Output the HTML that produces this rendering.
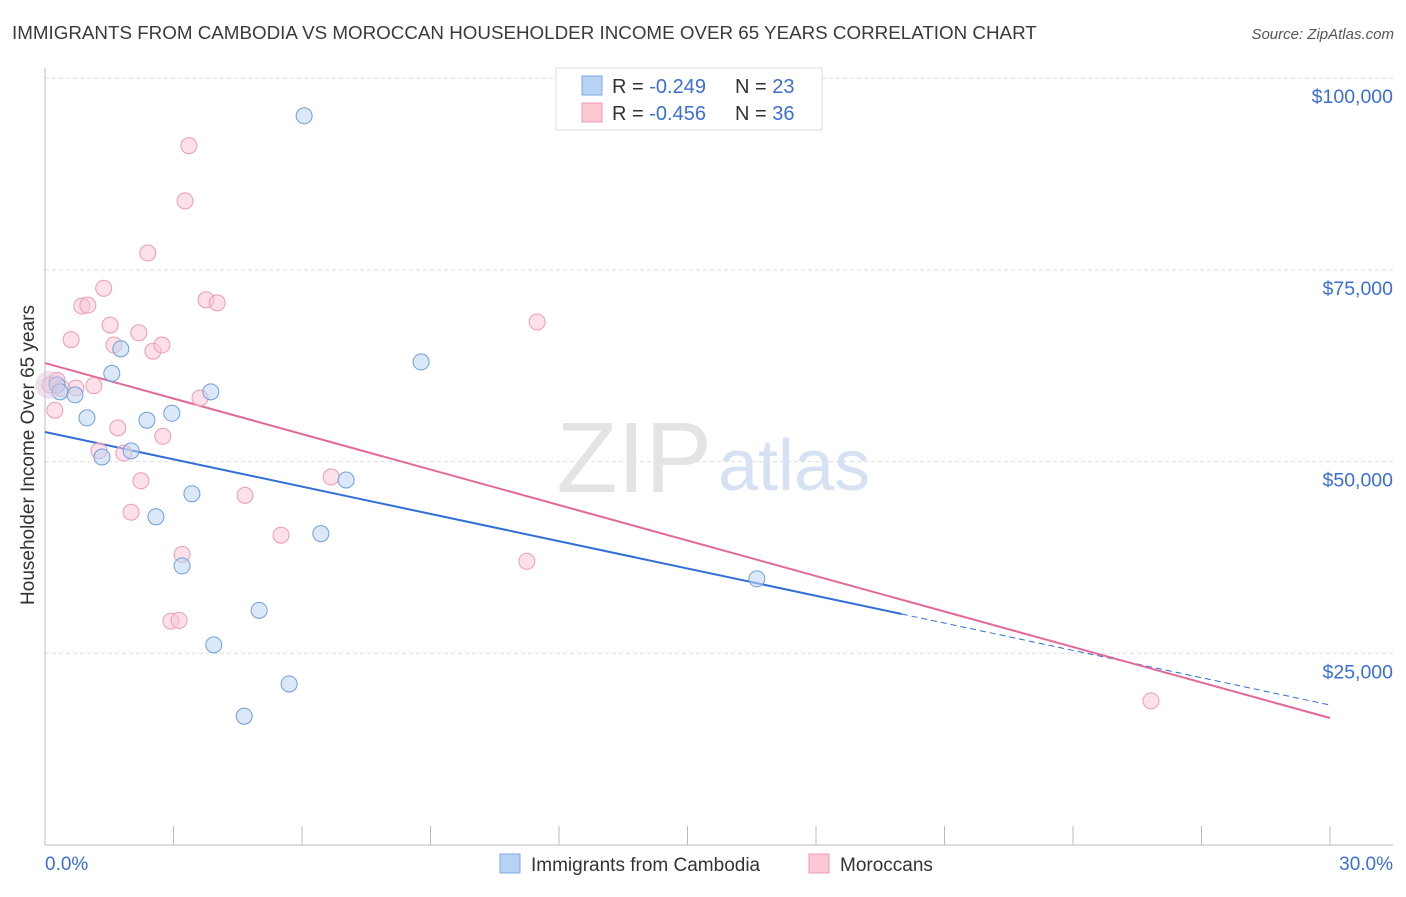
<!DOCTYPE html>
<html><head><meta charset="utf-8"><style>
body{margin:0;background:#fff;font-family:"Liberation Sans",sans-serif;}
svg text{font-family:"Liberation Sans",sans-serif;}
</style></head><body>
<svg id="chart" width="1406" height="892">
<text x="12" y="39" font-size="18.8" fill="#3a3a3a">IMMIGRANTS FROM CAMBODIA VS MOROCCAN HOUSEHOLDER INCOME OVER 65 YEARS CORRELATION CHART</text>
<text x="1394" y="39" font-size="15" fill="#555" text-anchor="end" font-style="italic">Source: ZipAtlas.com</text>
<g id="grid"></g>
<text x="712" y="492" font-size="100" fill="#e4e4e4" text-anchor="end" font-family="Liberation Serif">ZIP</text>
<text x="718" y="490" font-size="72" fill="#d6e2f3">atlas</text>
<text transform="translate(34,455) rotate(-90)" font-size="19" fill="#333" text-anchor="middle">Householder Income Over 65 years</text>
<g id="lines"></g>
<g id="points"></g>
<g>
<rect x="556" y="68" width="266" height="62" fill="#fff" stroke="#ddd"/>
<rect x="582" y="76" width="20" height="19" fill="#b8d2f3" stroke="#7fa8e0"/>
<rect x="582" y="103" width="20" height="19" fill="#fcc8d6" stroke="#f09ab3"/>
<text x="612" y="93" font-size="20" fill="#333">R = <tspan fill="#3b6fd4">-0.249</tspan></text>
<text x="735" y="93" font-size="20" fill="#333">N = <tspan fill="#3b6fd4">23</tspan></text>
<text x="612" y="120" font-size="20" fill="#333">R = <tspan fill="#3b6fd4">-0.456</tspan></text>
<text x="735" y="120" font-size="20" fill="#333">N = <tspan fill="#3b6fd4">36</tspan></text>
</g>
<g>
<rect x="500" y="854" width="20" height="19" fill="#b8d2f3" stroke="#7fa8e0"/>
<text x="531" y="871" font-size="19" fill="#333">Immigrants from Cambodia</text>
<rect x="809" y="854" width="20" height="19" fill="#fcc8d6" stroke="#f09ab3"/>
<text x="840" y="871" font-size="19" fill="#333">Moroccans</text>
</g>
</svg>
<script>
const yTicks=[25000,50000,75000,100000];
const yTickLabels=["$25,000","$50,000","$75,000","$100,000"];
const xEnds=[0,30];
const xEndLabels=["0.0%","30.0%"];
const cambX=[0.28,0.35,0.70,0.98,1.33,1.56,1.77,2.01,2.38,2.59,2.96,3.20,3.43,3.87,3.94,4.65,5.00,5.70,6.05,6.44,7.03,8.78,16.62];
const cambY=[60000,59100,58700,55700,50600,61500,64700,51400,55400,42800,56300,36400,45800,59100,26100,16800,30600,21000,95100,40600,47600,63000,34700];
const morX=[0.12,0.23,0.28,0.61,0.72,0.86,1.00,1.14,1.26,1.37,1.52,1.61,1.70,1.84,2.01,2.19,2.24,2.40,2.52,2.73,2.75,2.94,3.13,3.20,3.27,3.36,3.62,3.76,4.02,4.67,5.51,6.68,11.25,11.49,25.82,0.40];
const morY=[60000,56700,60600,65900,59600,70300,70400,59900,51400,72600,67800,65200,54400,51100,43400,66800,47500,77200,64400,65200,53300,29200,29300,37900,84000,91200,58300,71100,70700,45600,40400,48000,37000,68200,18800,59500];
const cambTrend=[53860,18260];
const morTrend=[62850,16560];
const NS="http://www.w3.org/2000/svg";
const X0=45,X1=1330,Y0=845,PPU=191.7/25000;
const sx=v=>X0+(v-xEnds[0])/(xEnds[1]-xEnds[0])*(X1-X0);
const sy=v=>Y0-v*PPU;
function mk(tag,attrs,parent){const e=document.createElementNS(NS,tag);for(const k in attrs)e.setAttribute(k,attrs[k]);parent.appendChild(e);return e;}
const grid=document.getElementById('grid');
yTicks.forEach((t,i)=>{
  const l=mk('line',{x1:X0,x2:1393,y1:sy(t),y2:sy(t),stroke:'#ddd','stroke-dasharray':'4,3'},grid);
  
  
  const tx=mk('text',{x:1393,y:sy(t)+25,'font-size':19.5,fill:'#3b6fd4','text-anchor':'end'},grid);
  tx.textContent=yTickLabels[i];
  
  
});
const ax=mk('line',{x1:X0,x2:X0,y1:68,y2:Y0,stroke:'#bbb'},grid);


const bx=mk('line',{x1:X0,x2:1393,y1:Y0,y2:Y0,stroke:'#bbb'},grid);


for(let i=0;i<=10;i++){const xx=X0+i*(X1-X0)/10;
  const tk=mk('line',{x1:xx,x2:xx,y1:826,y2:Y0,stroke:'#bbb'},grid);
  
  }
xEnds.forEach((v,i)=>{const t=mk('text',{x:i?1393:45,y:870,'font-size':19,fill:'#3b6fd4','text-anchor':i?'end':'start'},grid);
  t.textContent=xEndLabels[i];
  
  });
const pts=document.getElementById('points');
function dots(xs,ys,fill,stroke,name){xs.forEach((x,i)=>{
  const c=mk('circle',{cx:sx(x),cy:sy(ys[i]),r:8,fill:fill,'fill-opacity':0.55,stroke:stroke,'stroke-width':1},pts);
  
  });}
dots(morX,morY,'#fbc6d5','#ee9bb5','moroccan-point');
dots(cambX,cambY,'#bcd5f3','#6f9fdc','cambodia-point');
const big=mk('circle',{cx:sx(0.1),cy:sy(60000),r:14,fill:'#d9c6dd','fill-opacity':0.5,stroke:'none'},pts);


const lines=document.getElementById('lines');
const ty=(tr,x)=>tr[0]+(tr[1]-tr[0])*x/30;
const bs=mk('line',{x1:sx(0),y1:sy(cambTrend[0]),x2:sx(20),y2:sy(ty(cambTrend,20)),stroke:'#2f6fd6','stroke-width':2},lines);


const bd=mk('line',{x1:sx(20),y1:sy(ty(cambTrend,20)),x2:sx(30),y2:sy(cambTrend[1]),stroke:'#2f6fd6','stroke-width':1,'stroke-dasharray':'6,4'},lines);


const pl=mk('line',{x1:sx(0),y1:sy(morTrend[0]),x2:sx(30),y2:sy(morTrend[1]),stroke:'#e4689a','stroke-width':2},lines);


</script>
</body></html>
